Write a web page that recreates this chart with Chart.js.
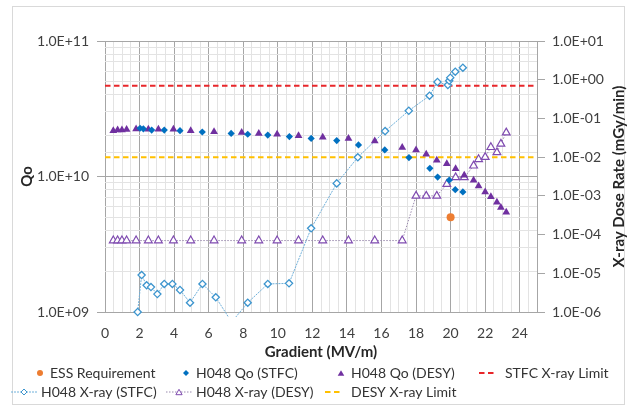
<!DOCTYPE html>
<html><head><meta charset="utf-8">
<script src="https://cdn.jsdelivr.net/npm/chart.js@4/dist/chart.umd.min.js"></script>
<style>html,body{margin:0;padding:0;background:#fff}#wrap{width:630px;height:410px}</style>
</head><body><div id="wrap"><canvas id="c" width="630" height="410"></canvas></div>
<script>
// ---- data ----
const essGradient = [20];
const essQo = [5e9];

const stfcQoGradient = [2.03, 2.22, 2.70, 3.43, 4.34, 5.63, 7.30, 8.26, 9.42, 10.67, 11.93, 13.41, 14.67, 16.19, 17.59, 18.80, 19.25, 19.92, 20.27, 20.71];
const stfcQo = [2.27e10, 2.25e10, 2.20e10, 2.20e10, 2.18e10, 2.13e10, 2.08e10, 2.05e10, 2.02e10, 1.97e10, 1.91e10, 1.84e10, 1.71e10, 1.57e10, 1.38e10, 1.15e10, 9.9e9, 9.4e9, 8.0e9, 7.7e9];

const desyGradient = [0.48, 0.73, 0.98, 1.25, 1.80, 2.51, 3.09, 3.96, 4.96, 6.31, 7.91, 8.90, 9.96, 11.20, 12.60, 14.09, 15.61, 17.20, 18.00, 18.59, 19.20, 19.78, 20.29, 20.79, 21.33, 21.62, 22.00, 22.33, 22.68, 22.91, 23.22];
const desyQo = [2.18e10, 2.20e10, 2.20e10, 2.22e10, 2.24e10, 2.23e10, 2.23e10, 2.23e10, 2.18e10, 2.14e10, 2.11e10, 2.08e10, 2.05e10, 2.00e10, 1.95e10, 1.91e10, 1.83e10, 1.64e10, 1.57e10, 1.46e10, 1.32e10, 1.24e10, 1.14e10, 1.02e10, 9.4e9, 8.5e9, 7.7e9, 7.1e9, 6.45e9, 5.9e9, 5.45e9];
const desyXray = [7e-5, 7e-5, 7e-5, 7e-5, 7e-5, 7e-5, 7e-5, 7e-5, 7e-5, 7e-5, 7e-5, 7e-5, 7e-5, 7e-5, 7e-5, 7e-5, 7e-5, 7e-5, 1e-3, 1e-3, 1e-3, 2e-3, 3e-3, 3e-3, 6e-3, 8.8e-3, 1e-2, 1.8e-2, 1.33e-2, 2.2e-2, 4.3e-2];

const stfcXrayGradient = [1.89, 2.12, 2.41, 2.66, 3.03, 3.43, 3.90, 4.34, 4.92, 5.64, 6.41, 7.33, 8.26, 9.42, 10.65, 11.93, 13.41, 14.63, 16.21, 17.58, 18.78, 19.24, 19.84, 19.92, 19.98, 20.27, 20.71];
const stfcXray = [1e-6, 9.0e-6, 4.9e-6, 4.4e-6, 2.9e-6, 5.3e-6, 5.3e-6, 3.7e-6, 1.74e-6, 5.3e-6, 2.4e-6, 5.5e-7, 1.74e-6, 5.3e-6, 5.5e-6, 1.45e-4, 2.1e-3, 9.9e-3, 0.047, 0.158, 0.386, 0.873, 0.73, 0.94, 1.13, 1.61, 2.04];

const limitSpan = [0, 25];
const stfcLimit = [0.7, 0.7];
const desyLimit = [0.01, 0.01];

const xTickLabels = ['0', '2', '4', '6', '8', '10', '12', '14', '16', '18', '20', '22', '24'];
const qoTickLabels = ['1.0E+09', '1.0E+10', '1.0E+11'];
const doseTickLabels = ['1.0E-06', '1.0E-05', '1.0E-04', '1.0E-03', '1.0E-02', '1.0E-01', '1.0E+00', '1.0E+01'];

// ---- helpers ----
const FONT = 'Lato, "Liberation Sans", sans-serif';
const MAJOR = '#A6A6A6', MINOR = '#E3E3E3', CLEAR = 'rgba(0,0,0,0)';
const pts = (xs, ys) => xs.map((x, i) => ({x: x, y: ys[i]}));
const lg = v => Math.log10(v);
const isDecade = v => Math.abs(lg(v) - Math.round(lg(v))) < 1e-6;

function drawMarker(c, style, x, y, r, fill, stroke, lw) {
  c.beginPath();
  if (style === 'circle') c.arc(x, y, r, 0, Math.PI * 2);
  else if (style === 'rectRot') { c.moveTo(x - r, y); c.lineTo(x, y - r); c.lineTo(x + r, y); c.lineTo(x, y + r); c.closePath(); }
  else { const yy = y + r * 0.25; c.moveTo(x, yy - r); c.lineTo(x + 0.866 * r, yy + 0.5 * r); c.lineTo(x - 0.866 * r, yy + 0.5 * r); c.closePath(); }
  if (fill) { c.fillStyle = fill; c.fill(); }
  if (stroke) { c.strokeStyle = stroke; c.lineWidth = lw; c.stroke(); }
}

const legendCols = [[50, 196, 351, 505], [41, 196, 351]];
const legendRows = [373, 392];

const decor = {
  id: 'decor',
  beforeDraw(chart) {
    const c = chart.ctx;
    c.save();
    c.fillStyle = '#fff'; c.fillRect(0, 0, chart.width, chart.height);
    c.strokeStyle = '#D9D9D9'; c.lineWidth = 1; c.strokeRect(12.5, 6.5, 612, 398);
    c.restore();
  },
  afterDraw(chart) {
    const c = chart.ctx;
    const ca = chart.chartArea;
    c.save();
    // right axis title (reads bottom to top)
    c.translate(619, (ca.top + ca.bottom) / 2);
    c.rotate(-Math.PI / 2);
    c.font = 'bold 15px ' + FONT; c.fillStyle = '#262626';
    c.textAlign = 'center'; c.textBaseline = 'middle';
    c.fillText('X-ray Dose Rate (mGy/min)', 0, 0);
    c.restore();
    // legend
    c.save();
    c.font = '14px ' + FONT; c.textAlign = 'left'; c.textBaseline = 'middle';
    chart.data.datasets.forEach((ds, i) => {
      const row = i < 4 ? 0 : 1, col = i < 4 ? i : i - 4;
      const T = legendCols[row][col], y = legendRows[row];
      if (ds.legendKind === 'point') {
        drawMarker(c, ds.pointStyle, T - 10, y, ds.pointStyle === 'triangle' ? 3.8 : 3, ds.backgroundColor, null, 0);
      } else if (ds.legendKind === 'dash') {
        c.save(); c.strokeStyle = ds.borderColor; c.lineWidth = ds.borderWidth; c.setLineDash(ds.borderDash);
        c.beginPath(); c.moveTo(T - 26, y); c.lineTo(T - 8, y); c.stroke(); c.restore();
      } else {
        c.save(); c.strokeStyle = ds.borderColor; c.lineWidth = 1; c.setLineDash(ds.borderDash);
        c.beginPath(); c.moveTo(T - 30, y); c.lineTo(T - 4, y); c.stroke(); c.restore();
        drawMarker(c, ds.pointStyle, T - 17, y, ds.pointStyle === 'triangle' ? 3.6 : 3, '#fff', ds.pointBorderColor, 1);
      }
      c.fillStyle = '#333';
      c.fillText(ds.label, T, y);
    });
    c.restore();
  }
};

const tickFont = {family: FONT, size: 14};
const titleFont = {family: FONT, size: 15, weight: 'bold', lineHeight: 1.2};

new Chart(document.getElementById('c'), {
  type: 'scatter',
  data: {
    datasets: [
      {label: 'ESS Requirement', data: pts(essGradient, essQo), yAxisID: 'y', pointStyle: 'circle', pointRadius: 4,
       backgroundColor: '#ED7D31', borderColor: '#ED7D31', borderWidth: 0, legendKind: 'point', order: 1},
      {label: 'H048 Qo (STFC)', data: pts(stfcQoGradient, stfcQo), yAxisID: 'y', pointStyle: 'rectRot', pointRadius: 3.6,
       backgroundColor: '#0070C0', borderColor: '#0070C0', borderWidth: 0, legendKind: 'point', order: 2},
      {label: 'H048 Qo (DESY)', data: pts(desyGradient, desyQo), yAxisID: 'y', pointStyle: 'triangle', pointRadius: 4.5,
       backgroundColor: '#7030A0', borderColor: '#7030A0', borderWidth: 0, legendKind: 'point', order: 3},
      {label: 'STFC X-ray Limit', data: pts(limitSpan, stfcLimit), yAxisID: 'y2', showLine: true, pointRadius: 0,
       borderColor: '#E8262A', backgroundColor: '#E8262A', borderWidth: 2, borderDash: [5.5, 3.5], legendKind: 'dash', order: 9},
      {label: 'H048 X-ray (STFC)', data: pts(stfcXrayGradient, stfcXray), yAxisID: 'y2', showLine: true,
       pointStyle: 'rectRot', pointRadius: 3.6, pointBorderWidth: 1.3, pointBackgroundColor: '#fff', pointBorderColor: '#3D95CE',
       borderColor: '#6FB0DA', backgroundColor: '#fff', borderWidth: 1, borderDash: [2, 1],
       clip: {left: 0, top: 0, right: 0, bottom: 5}, legendKind: 'linepoint', order: 5},
      {label: 'H048 X-ray (DESY)', data: pts(desyGradient, desyXray), yAxisID: 'y2', showLine: true,
       pointStyle: 'triangle', pointRadius: 4.5, pointBorderWidth: 1.2, pointBackgroundColor: '#fff', pointBorderColor: '#7F4BB0',
       borderColor: '#9A8AAE', backgroundColor: '#fff', borderWidth: 1, borderDash: [1.5, 1.5], legendKind: 'linepoint', order: 6},
      {label: 'DESY X-ray Limit', data: pts(limitSpan, desyLimit), yAxisID: 'y2', showLine: true, pointRadius: 0,
       borderColor: '#FFC000', backgroundColor: '#FFC000', borderWidth: 2, borderDash: [5.5, 3.5], legendKind: 'dash', order: 9}
    ]
  },
  options: {
    responsive: false, animation: false, events: [],
    layout: {padding: {top: 41, bottom: 48.6, left: 0, right: 0}},
    plugins: {legend: {display: false}, tooltip: {enabled: false}},
    scales: {
      x: {
        type: 'linear', position: 'bottom', min: 0, max: 25,
        ticks: {stepSize: 0.5, autoSkip: false, maxRotation: 0, includeBounds: false, padding: 13, font: tickFont, color: '#404040',
          callback: v => (Math.abs(v % 2) < 1e-9 && v <= 24) ? xTickLabels[Math.round(v / 2)] : ''},
        grid: {color: c => (c.tick && Math.abs(c.tick.value % 2) < 1e-9) ? MAJOR : MINOR, drawTicks: false},
        border: {display: false},
        title: {display: true, text: 'Gradient (MV/m)', font: titleFont, color: '#262626', padding: {top: 4, bottom: 0}},
        afterFit: s => { s.height = 49.4; }
      },
      y: {
        type: 'logarithmic', position: 'left', min: 1e9, max: 1e11,
        ticks: {autoSkip: false, padding: 8, font: tickFont, color: '#404040',
          callback: v => isDecade(v) ? qoTickLabels[Math.round(lg(v)) - 9] : ''},
        grid: {color: c => isDecade(c.tick.value) ? MAJOR : MINOR, tickColor: c => isDecade(c.tick.value) ? MAJOR : CLEAR, tickLength: 8},
        border: {display: false},
        title: {display: true, text: 'Qo', font: titleFont, color: '#262626', padding: {top: 18, bottom: 0}},
        afterFit: s => { s.width = 105; }
      },
      y2: {
        type: 'logarithmic', position: 'right', min: 1e-6, max: 10,
        ticks: {autoSkip: false, padding: 7, font: tickFont, color: '#404040',
          callback: v => isDecade(v) ? doseTickLabels[Math.round(lg(v)) + 6] : ''},
        grid: {drawOnChartArea: false, tickColor: c => isDecade(c.tick.value) ? MAJOR : CLEAR, tickLength: 8},
        border: {display: true, color: MAJOR},
        afterFit: s => { s.width = 93; }
      }
    }
  },
  plugins: [decor]
});
</script>
</body></html>
